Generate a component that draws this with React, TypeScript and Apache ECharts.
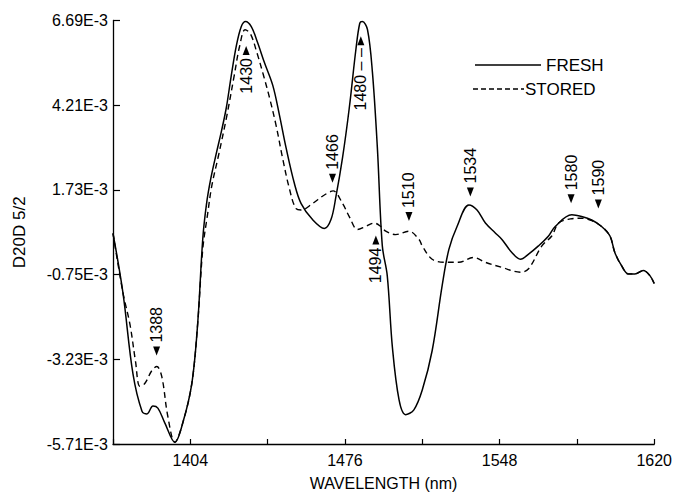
import { useEffect, useRef } from "react";
import * as echarts from "echarts";

// Wavelength (nm) and D20D 5/2 values (in units of 1E-3)
const freshNm = [1368, 1372.6, 1377.3, 1381.5, 1383.8, 1386.6, 1388.9, 1392.1, 1396.8, 1400.5, 1404.7, 1407.4, 1409.8, 1411.5, 1413.5, 1416.1, 1418.5, 1420.8, 1423.0, 1425.4, 1427.7, 1429.7, 1432.4, 1435.4, 1438.5, 1442.4, 1445.5, 1448.6, 1452.5, 1455.6, 1460.9, 1466.4, 1469.5, 1471.8, 1474.9, 1478.0, 1481.1, 1482.9, 1484.1, 1486.5, 1488.8, 1491.1, 1493.4, 1495.7, 1498.1, 1501.2, 1504.2, 1508.1, 1512.0, 1516.6, 1521.3, 1524.4, 1528.2, 1533.7, 1537.5, 1541.4, 1546.0, 1549.1, 1553.8, 1557.7, 1561.5, 1566.1, 1570.8, 1573.9, 1581.6, 1586.2, 1590.9, 1595.5, 1599.4, 1601.7, 1604.8, 1607.9, 1611.0, 1614.9, 1618.0, 1620];
const freshVal = [0.46, -1.27, -3.66, -4.75, -4.83, -4.60, -4.66, -5.09, -5.66, -5.09, -3.94, -2.21, 0.3, 1.3, 2.05, 2.8, 3.45, 4.15, 5.05, 5.94, 6.51, 6.66, 6.51, 6.03, 5.46, 4.79, 3.92, 2.96, 1.91, 1.33, 0.86, 0.60, 0.86, 1.53, 2.68, 4.12, 5.84, 6.61, 6.66, 6.42, 5.17, 2.96, 0.09, -0.78, -2.88, -4.42, -4.85, -4.71, -4.13, -2.98, -1.06, -0.01, 0.66, 1.29, 1.14, 0.76, 0.47, 0.28, -0.11, -0.30, -0.15, 0.09, 0.38, 0.66, 1.00, 0.95, 0.85, 0.66, 0.38, -0.11, -0.49, -0.73, -0.73, -0.63, -0.78, -1.01];

const storedNm = [1368, 1372.6, 1375.9, 1378.5, 1380.5, 1382.8, 1386.1, 1388.4, 1390.7, 1393.5, 1396.8, 1400.5, 1404.7, 1407.4, 1409.8, 1412.0, 1414.0, 1417.0, 1421.0, 1424.5, 1427.0, 1429.5, 1432.0, 1435.0, 1438.0, 1441.0, 1444.0, 1447.0, 1450.0, 1453.0, 1455.6, 1460.9, 1466.4, 1470.5, 1474.9, 1478.0, 1481.9, 1485.7, 1489.6, 1492.7, 1495.0, 1499.6, 1505.8, 1510.5, 1512.0, 1516.6, 1522.8, 1529.0, 1536.0, 1541.4, 1549.1, 1557.7, 1561.5, 1567.7, 1572.3, 1575.5, 1581.0, 1586.2, 1590.9, 1595.5, 1599.4, 1601.7, 1604.8, 1607.9, 1611.0, 1614.9, 1618.0, 1620];
const storedVal = [0.46, -1.27, -2.21, -3.3, -4.02, -3.94, -3.56, -3.44, -3.73, -4.89, -5.66, -5.09, -3.94, -2.21, 0.0, 1.0, 1.85, 2.7, 3.9, 5.1, 5.95, 6.42, 6.30, 5.75, 5.1, 4.4, 3.6, 2.65, 1.8, 1.2, 1.14, 1.33, 1.58, 1.70, 1.33, 0.95, 0.57, 0.66, 0.76, 0.66, 0.52, 0.42, 0.52, 0.28, 0.09, -0.30, -0.39, -0.39, -0.25, -0.39, -0.54, -0.68, -0.58, 0.09, 0.38, 0.76, 0.88, 0.90, 0.83, 0.66, 0.38, -0.11, -0.49, -0.73, -0.73, -0.63, -0.78, -1.01];

// Peak annotations: text, arrow position (nm, value in 1E-3), arrow direction
const annText = ["1388", "1430", "1466", "1480 – –", "1494", "1510", "1534", "1580", "1590"];
const annNm = [1388.3, 1430.0, 1470.2, 1483.4, 1490.4, 1505.8, 1534.4, 1581.3, 1594.0];
const annVal = [-2.99, 5.81, 2.07, 6.10, 0.26, 0.95, 1.67, 1.47, 1.32];
const annDir = ["down", "up", "down", "up", "up", "down", "down", "down", "down"];

// Axis settings
const xMin = 1368;
const xMax = 1620;
const xStep = 36;
const xLabelled = [1404, 1476, 1548, 1620];
const yBottom = -5.71; // E-3
const yStep = 2.48;
const ySteps = 5;

const FONT = "'Liberation Sans', Arial, Helvetica, sans-serif";

export default function App() {
  const ref = useRef<HTMLDivElement>(null);

  useEffect(() => {
    if (!ref.current) return;
    const chart = echarts.init(ref.current, null, { renderer: "svg" });
    const off = (v: number) => +(v - yBottom).toFixed(4);
    const fresh = freshNm.map((x, i) => [x, off(freshVal[i])]);
    const stored = storedNm.map((x, i) => [x, off(storedVal[i])]);
    const mkAnn = (dir: string) =>
      annText
        .map((t, i) => ({ t, i }))
        .filter((a) => annDir[a.i] === dir)
        .map((a) => ({ value: [annNm[a.i], off(annVal[a.i])], name: a.t }));

    const labelBase = {
      show: true,
      rotate: 90,
      color: "#000",
      opacity: 1,
      fontFamily: FONT,
      fontSize: 16,
      formatter: (p: any) => p.name,
    };

    chart.setOption({
      animation: false,
      backgroundColor: "#fff",
      textStyle: { fontFamily: FONT, color: "#000" },
      grid: { left: 113, right: 19, top: 20.5, bottom: 45 },
      xAxis: {
        type: "value",
        min: xMin,
        max: xMax,
        interval: xStep,
        name: "WAVELENGTH (nm)",
        nameLocation: "middle",
        nameGap: 31,
        nameTextStyle: { fontSize: 16, color: "#000", fontFamily: FONT },
        axisLine: { onZero: false, lineStyle: { color: "#000", width: 1.3 } },
        axisTick: { inside: true, length: 5, lineStyle: { color: "#000", width: 1.2 } },
        splitLine: { show: false },
        axisLabel: {
          color: "#000",
          fontSize: 16,
          fontFamily: FONT,
          margin: 8,
          showMinLabel: true,
          showMaxLabel: true,
          formatter: (v: number) => (xLabelled.includes(Math.round(v)) ? String(Math.round(v)) : ""),
        },
      },
      yAxis: {
        type: "value",
        min: 0,
        max: +(yStep * ySteps).toFixed(2),
        interval: yStep,
        name: "D20D 5/2",
        nameLocation: "middle",
        nameRotate: 90,
        nameGap: 85,
        nameTextStyle: { fontSize: 17, color: "#000", fontFamily: FONT },
        axisLine: { show: true, onZero: false, lineStyle: { color: "#000", width: 1.3 } },
        axisTick: { show: true, inside: true, length: 7, lineStyle: { color: "#000", width: 1.2 } },
        splitLine: { show: false },
        axisLabel: {
          color: "#000",
          fontSize: 16,
          fontFamily: FONT,
          margin: 5,
          formatter: (v: number) => (v + yBottom).toFixed(2) + "E-3",
        },
      },
      series: [
        {
          name: "FRESH",
          type: "line",
          data: fresh,
          smooth: 0.35,
          symbol: "none",
          lineStyle: { color: "#000", width: 1.5 },
          z: 3,
        },
        {
          name: "STORED",
          type: "line",
          data: stored,
          smooth: 0.35,
          symbol: "none",
          lineStyle: { color: "#000", width: 1.4, type: [6, 4] },
          z: 3,
        },
        {
          name: "peaksDown",
          type: "scatter",
          data: mkAnn("down"),
          symbol: "triangle",
          symbolSize: [7, 9],
          symbolRotate: 180,
          itemStyle: { color: "#000", opacity: 1 },
          label: { ...labelBase, position: "top", distance: 4, align: "left", verticalAlign: "middle" },
          z: 5,
        },
        {
          name: "peaksUp",
          type: "scatter",
          data: mkAnn("up"),
          symbol: "triangle",
          symbolSize: [7, 9],
          itemStyle: { color: "#000", opacity: 1 },
          label: { ...labelBase, position: "bottom", distance: 3, align: "right", verticalAlign: "middle" },
          z: 5,
        },
      ],
      graphic: [
        { type: "line", shape: { x1: 475, y1: 65, x2: 541, y2: 65 }, style: { stroke: "#000", lineWidth: 1.5 } },
        { type: "text", x: 546, y: 65, style: { text: "FRESH", fill: "#000", font: `17px ${FONT}`, verticalAlign: "middle", align: "left" } },
        { type: "line", shape: { x1: 473, y1: 89, x2: 524, y2: 89 }, style: { stroke: "#000", lineWidth: 1.4, lineDash: [5, 3] } },
        { type: "text", x: 525, y: 89, style: { text: "STORED", fill: "#000", font: `17px ${FONT}`, verticalAlign: "middle", align: "left" } },
      ],
    });
    return () => chart.dispose();
  }, []);

  return (
    <div
      ref={ref}
      style={{ position: "fixed", left: 0, top: 0, width: 675, height: 496, background: "#fff" }}
    />
  );
}
